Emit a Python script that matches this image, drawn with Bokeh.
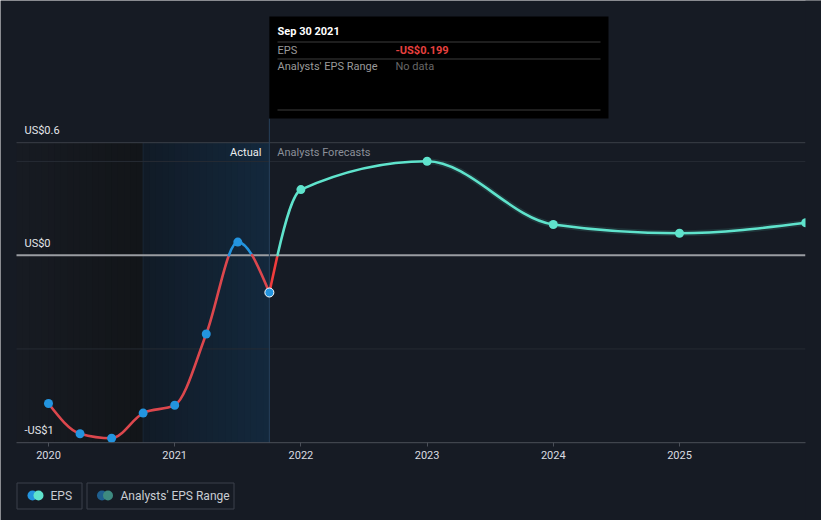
import numpy as np
from bokeh.plotting import figure
from bokeh.models import Range1d, LinearAxis, FixedTicker, NumeralTickFormatter
from bokeh.core.properties import value
from bokeh.embed import file_html
from bokeh.resources import INLINE

# ---------------- data ----------------
actual_dates = [2020.0, 2020.25, 2020.5, 2020.75, 2021.0, 2021.25, 2021.5, 2021.75]
actual_eps = [-0.791, -0.952, -0.976, -0.842, -0.800, -0.420, 0.070, -0.199]
forecast_dates = [2021.75, 2022.0, 2023.0, 2024.0, 2025.0, 2026.0]
forecast_eps = [-0.199, 0.350, 0.501, 0.164, 0.117, 0.173]
x_ticks = [2020, 2021, 2022, 2023, 2024, 2025]
y_ticks = [0.6, 0.0, -1.0]
y_tick_labels = ["US$0.6", "US$0", "-US$1"]
grid_values = [0.5, -0.5]
band_start = 2020.75
today = 2021.75
tooltip_date = "Sep 30 2021"
tooltip_eps = "-US$0.199"

# ---------------- style ----------------
BG = "#161b24"
RED_PAST = "#dc474d"
RED_FC = "#f03c3c"
BLUE = "#2394df"
TEAL = "#5fe3cc"
FONT = value("Roboto")

W, H = 821, 520
PX_PER_YEAR = 126.2
PX_PER_UNIT = 187.5
ZERO_PX = 254.7
X0 = 2020 - 48 / PX_PER_YEAR
X1 = X0 + W / PX_PER_YEAR
Y1 = ZERO_PX / PX_PER_UNIT
Y0 = Y1 - H / PX_PER_UNIT


def px2x(px):
    return X0 + px / PX_PER_YEAR


def px2y(py):
    return Y1 - py / PX_PER_UNIT


XL, XR = px2x(16), px2x(805)   # plotting area edges

p = figure(width=W, height=H, x_range=Range1d(X0, X1), y_range=Range1d(Y0, Y1),
           output_backend="svg", toolbar_location=None,
           x_axis_location=None, y_axis_location=None,
           min_border_left=0, min_border_right=0, min_border_top=0, min_border_bottom=0,
           background_fill_color=BG, border_fill_color=BG, outline_line_color=None)
p.grid.visible = False

# ---------------- background regions ----------------
top_val = y_ticks[0]
bot_val = y_ticks[-1]


def hex2rgb(h):
    return np.array([int(h[i:i + 2], 16) for i in (1, 3, 5)], dtype=float)


def grad(c0, c1, n):
    a, b = hex2rgb(c0), hex2rgb(c1)
    out = []
    for k in range(n):
        c = a + (b - a) * (k / max(n - 1, 1))
        out.append("#%02x%02x%02x" % tuple(int(round(v)) for v in c))
    return out


n = 20
e = np.linspace(XL, band_start, n + 1)
p.quad(left=e[:-1], right=e[1:] + 0.004, bottom=bot_val, top=top_val,
       fill_color=grad("#171b22", "#121519", n), line_color=None)
e = np.linspace(band_start, today, n + 1)
p.quad(left=e[:-1], right=e[1:] + 0.004, bottom=bot_val, top=top_val,
       fill_color=grad("#111b27", "#13283c", n), line_color=None)
p.segment(x0=[band_start], y0=[bot_val], x1=[band_start], y1=[top_val], line_color="#1a2736", line_width=1)

# grid lines
p.segment(x0=[XL] * len(grid_values), y0=grid_values, x1=[XR] * len(grid_values), y1=grid_values,
          line_color="#262b33", line_width=1)
p.segment(x0=[XL], y0=[top_val], x1=[XR], y1=[top_val], line_color="#3a3f48", line_width=1)
p.segment(x0=[XL], y0=[0], x1=[XR], y1=[0], line_color="#9a9da2", line_width=2)

# today vertical line
p.segment(x0=[today], y0=[bot_val], x1=[today], y1=[px2y(118)], line_color="#27405a", line_width=1)


# ---------------- monotone curves as beziers ----------------
def tangents(xs, ys):
    m = len(xs)
    t = [0.0] * m
    for i in range(1, m - 1):
        h0 = xs[i] - xs[i - 1]
        h1 = xs[i + 1] - xs[i]
        s0 = (ys[i] - ys[i - 1]) / h0
        s1 = (ys[i + 1] - ys[i]) / h1
        pp = (s0 * h1 + s1 * h0) / (h0 + h1)
        t[i] = (np.sign(s0) + np.sign(s1)) * min(abs(s0), abs(s1), 0.5 * abs(pp))
    h = xs[1] - xs[0]
    t[0] = (3 * (ys[1] - ys[0]) / h - t[1]) / 2
    h = xs[-1] - xs[-2]
    t[-1] = (3 * (ys[-1] - ys[-2]) / h - t[-2]) / 2
    return t


def segments(xs, ys):
    t = tangents(xs, ys)
    segs = []
    for i in range(len(xs) - 1):
        d = (xs[i + 1] - xs[i]) / 3
        segs.append([(xs[i], ys[i]), (xs[i] + d, ys[i] + d * t[i]),
                     (xs[i + 1] - d, ys[i + 1] - d * t[i + 1]), (xs[i + 1], ys[i + 1])])
    return segs


def lerp(a, b, s):
    return (a[0] + (b[0] - a[0]) * s, a[1] + (b[1] - a[1]) * s)


def split(P, s):
    a, b, c = lerp(P[0], P[1], s), lerp(P[1], P[2], s), lerp(P[2], P[3], s)
    d, e2 = lerp(a, b, s), lerp(b, c, s)
    f = lerp(d, e2, s)
    return [P[0], a, d, f], [f, e2, c, P[3]]


def split_zero(segs):
    out = []
    for P in segs:
        ya, yb = P[0][1], P[3][1]
        if ya * yb < 0:
            lo, hi = 0.0, 1.0
            for _ in range(60):
                mid = (lo + hi) / 2
                ym = split(P, mid)[0][3][1]
                if (ym < 0) == (ya < 0):
                    lo = mid
                else:
                    hi = mid
            L, R = split(P, (lo + hi) / 2)
            out += [L, R]
        else:
            out.append(P)
    return out


def draw(segs, neg, pos, width, alpha=1.0):
    cols = [neg if (P[0][1] + P[3][1]) < 0 else pos for P in segs]
    p.bezier(x0=[P[0][0] for P in segs], y0=[P[0][1] for P in segs],
             cx0=[P[1][0] for P in segs], cy0=[P[1][1] for P in segs],
             cx1=[P[2][0] for P in segs], cy1=[P[2][1] for P in segs],
             x1=[P[3][0] for P in segs], y1=[P[3][1] for P in segs],
             line_color=cols, line_width=width, line_alpha=alpha, line_cap="round")


fc_segs = split_zero(segments(forecast_dates, forecast_eps))
# faint analyst range band
draw([s for s in fc_segs if s[0][0] >= 2023.0], TEAL, TEAL, 6, 0.13)
draw(split_zero(segments(actual_dates, actual_eps)), RED_PAST, BLUE, 2.6)
draw(fc_segs, RED_FC, TEAL, 2.6)

p.scatter(actual_dates[:-1], actual_eps[:-1], size=9, fill_color=BLUE, line_color=None)
p.scatter([actual_dates[-1]], [actual_eps[-1]], size=9, fill_color=BLUE, line_color="white", line_width=1)
p.scatter(forecast_dates[1:], forecast_eps[1:], size=9, fill_color=TEAL, line_color=None)

# clip marks beyond the right edge of the plotting area
p.quad(left=[XR], right=[X1], bottom=[Y0], top=[Y1], fill_color=BG, line_color=None)

# ---------------- labels ----------------
p.text(x=[XL] * len(y_ticks), y=y_ticks, text=y_tick_labels, x_offset=8, y_offset=-12,
       text_font=FONT, text_font_size="11px", text_color="#e4e6ea", text_baseline="middle")
p.text(x=[today], y=[0.55], text=["Actual"], x_offset=-8, text_align="right", text_baseline="middle",
       text_font=FONT, text_font_size="11px", text_color="#eceef0")
p.text(x=[today], y=[0.55], text=["Analysts Forecasts"], x_offset=8, text_align="left", text_baseline="middle",
       text_font=FONT, text_font_size="11px", text_color="#8b9099")

# x axis line drawn over the plotting width only
p.segment(x0=[XL], y0=[bot_val], x1=[XR], y1=[bot_val], line_color="#4a4f58", line_width=1)
xaxis = LinearAxis(fixed_location=bot_val, ticker=FixedTicker(ticks=x_ticks),
                   formatter=NumeralTickFormatter(format="0"))
xaxis.axis_line_color = None
xaxis.major_tick_line_color = "#4a4f58"
xaxis.major_tick_out = 4
xaxis.major_tick_in = 0
xaxis.minor_tick_line_color = None
xaxis.major_label_text_font = "Roboto"
xaxis.major_label_text_font_size = "11px"
xaxis.major_label_text_color = "#dadce0"
xaxis.major_label_standoff = 4
p.add_layout(xaxis, "below")

# ---------------- tooltip ----------------
tl, tr = today, px2x(608)
p.quad(left=[tl], right=[tr], top=[px2y(16)], bottom=[px2y(118)], fill_color="#000000", line_color=None)
p.segment(x0=[px2x(277)] * 3, x1=[px2x(600)] * 3, y0=[px2y(41.5), px2y(58.5), px2y(109.5)],
          y1=[px2y(41.5), px2y(58.5), px2y(109.5)], line_color="#3c3c3c", line_width=1)
p.text(x=[px2x(277)], y=[px2y(31)], text=[tooltip_date], text_font=FONT, text_font_size="11px",
       text_font_style="bold", text_color="#ffffff", text_baseline="middle")
p.text(x=[px2x(277)] * 2, y=[px2y(49.5), px2y(66)], text=["EPS", "Analysts' EPS Range"], text_font=FONT,
       text_font_size="11px", text_color="#9a9a9a", text_baseline="middle")
p.text(x=[px2x(395)], y=[px2y(49.5)], text=[tooltip_eps], text_font=FONT, text_font_size="11px",
       text_font_style="bold", text_color="#e8413f", text_baseline="middle")
p.text(x=[px2x(395)], y=[px2y(66)], text=["No data"], text_font=FONT, text_font_size="11px",
       text_color="#676767", text_baseline="middle")

# ---------------- legend ----------------
p.quad(left=[px2x(16.5), px2x(86.5)], right=[px2x(81.5), px2x(233.5)],
       top=[px2y(482.5)] * 2, bottom=[px2y(508.5)] * 2,
       fill_color=None, line_color="#3b414b", line_width=1)
p.scatter([px2x(32), px2x(101.5)], [px2y(495)] * 2, size=10, fill_color=[BLUE, "#1f5f8f"], line_color=None)
p.scatter([px2x(38), px2x(107.5)], [px2y(495)] * 2, size=10, fill_color=[TEAL, "#3e8a80"], line_color=None)
p.text(x=[px2x(50), px2x(120)], y=[px2y(495)] * 2, text=["EPS", "Analysts' EPS Range"], text_font=FONT,
       text_font_size="12px", text_color="#c9cdd3", text_baseline="middle")

open("out.html", "w").write(file_html(p, INLINE))
